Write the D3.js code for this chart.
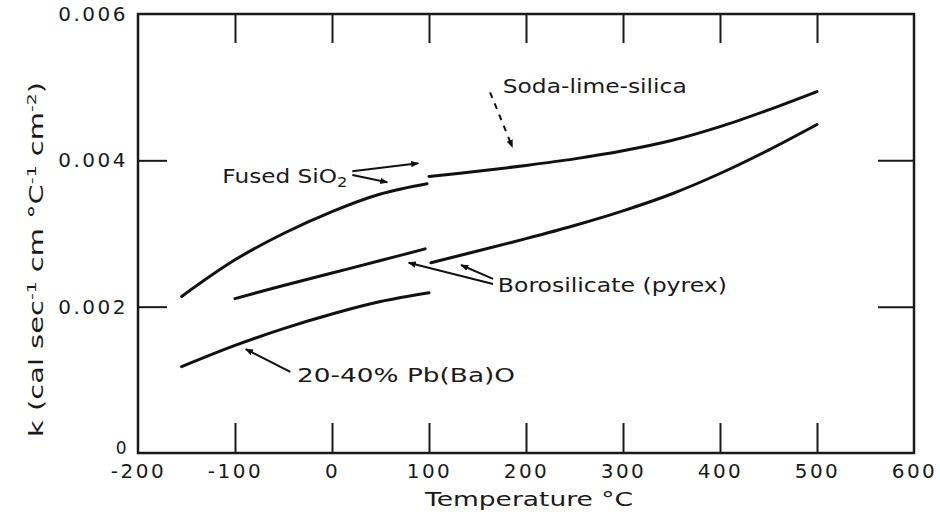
<!DOCTYPE html>
<html>
<head>
<meta charset="utf-8">
<script src="https://cdn.jsdelivr.net/npm/d3@7"></script>
<style>
  body { margin: 0; background: #fff; }
  text { font-family: "DejaVu Sans", sans-serif; fill: #1a1a1a; }
</style>
</head>
<body>
<div id="chart"></div>
<script>
// temperatures (deg C) and conductivity k for each glass
var sodaT = [100, 150, 200, 250, 300, 350, 400, 450, 500];
var sodaK = [0.00378, 0.00385, 0.00393, 0.00402, 0.00413, 0.00427, 0.00446, 0.00469, 0.00494];

var fusedT = [-155, -100, -50, 0, 50, 98];
var fusedK = [0.00214, 0.00264, 0.00300, 0.00330, 0.00354, 0.00368];

var boroLowT = [-100, -50, 0, 50, 96];
var boroLowK = [0.00211, 0.00229, 0.00246, 0.00263, 0.00279];

var boroHighT = [102, 150, 200, 250, 300, 350, 400, 450, 500];
var boroHighK = [0.00260, 0.00276, 0.00293, 0.00311, 0.00331, 0.00354, 0.00382, 0.00414, 0.00449];

var leadT = [-155, -100, -50, 0, 50, 100];
var leadK = [0.00118, 0.00147, 0.00170, 0.00190, 0.00207, 0.00219];

var xTicks = [-200, -100, 0, 100, 200, 300, 400, 500, 600];
var yTicks = [0, 0.002, 0.004, 0.006];
var yTickLabels = ["0", "0.002", "0.004", "0.006"];

var width = 940,
    height = 525;

var x = d3.scaleLinear().domain([-200, 600]).range([138, 914]);
var y = d3.scaleLinear().domain([0, 0.006]).range([453, 14]);

var svg = d3.select("#chart").append("svg")
    .attr("width", width)
    .attr("height", height);

svg.append("defs").append("marker")
    .attr("id", "head")
    .attr("viewBox", "0 0 10 10")
    .attr("refX", 9).attr("refY", 5)
    .attr("markerWidth", 4).attr("markerHeight", 4)
    .attr("markerUnits", "strokeWidth")
    .attr("orient", "auto")
  .append("path")
    .attr("d", "M0,1L10,5L0,9Z")
    .attr("fill", "#111");

// frame
svg.append("rect")
    .attr("x", x(-200)).attr("y", y(0.006))
    .attr("width", x(600) - x(-200))
    .attr("height", y(0) - y(0.006))
    .attr("fill", "none")
    .attr("stroke", "#1a1a1a")
    .attr("stroke-width", 2.5);

// axes with inward ticks
var xAxisBottom = svg.append("g")
    .attr("transform", "translate(0," + y(0) + ")")
    .call(d3.axisBottom(x).tickValues(xTicks).tickSizeInner(-30).tickSizeOuter(0).tickPadding(11)
        .tickFormat(function(d) { return d; }));
xAxisBottom.select(".domain").remove();
xAxisBottom.selectAll("line").filter(function(d) { return d === -200 || d === 600; }).remove();

var xAxisTop = svg.append("g")
    .attr("transform", "translate(0," + y(0.006) + ")")
    .call(d3.axisTop(x).tickValues(xTicks.slice(1, -1)).tickSizeInner(-29).tickSizeOuter(0).tickFormat(""));
xAxisTop.select(".domain").remove();

var yAxisLeft = svg.append("g")
    .attr("transform", "translate(" + x(-200) + ",0)")
    .call(d3.axisLeft(y).tickValues(yTicks).tickSizeInner(-29).tickSizeOuter(0).tickPadding(10)
        .tickFormat(function(d, i) { return yTickLabels[i]; }));
yAxisLeft.select(".domain").remove();
yAxisLeft.selectAll("line").filter(function(d) { return d === 0 || d === 0.006; }).remove();

var yAxisRight = svg.append("g")
    .attr("transform", "translate(" + x(600) + ",0)")
    .call(d3.axisRight(y).tickValues([0.002, 0.004]).tickSizeInner(-36).tickSizeOuter(0).tickFormat(""));
yAxisRight.select(".domain").remove();

svg.selectAll(".tick line").attr("stroke", "#1a1a1a").attr("stroke-width", 2);
svg.selectAll(".tick text")
    .style("font-size", "20px")
    .style("letter-spacing", "2.5px")
    .attr("fill", "#1a1a1a");

// the "0" sits tucked into the corner above "-200"
yAxisLeft.selectAll("text").filter(function(d) { return d === 0; })
    .attr("x", -9)
    .attr("dy", "0.05em")
    .style("font-size", "17px");

// curves
var line = d3.line()
    .x(function(d) { return x(d[0]); })
    .y(function(d) { return y(d[1]); })
    .curve(d3.curveCatmullRom.alpha(0.5));

var series = [
    [sodaT, sodaK],
    [fusedT, fusedK],
    [boroLowT, boroLowK],
    [boroHighT, boroHighK],
    [leadT, leadK]
];

svg.selectAll(".curve")
    .data(series)
    .enter().append("path")
    .attr("class", "curve")
    .attr("d", function(s) { return line(d3.zip(s[0], s[1])); })
    .attr("fill", "none")
    .attr("stroke", "#111")
    .attr("stroke-width", 3)
    .attr("stroke-linecap", "round");

// labels, positioned in data units, stretched like the original lettering
function label(t, k, str, len) {
    return svg.append("text")
        .attr("x", x(t)).attr("y", y(k))
        .attr("textLength", len)
        .attr("lengthAdjust", "spacingAndGlyphs")
        .style("font-size", "20px")
        .text(str);
}

label(176, 0.00492, "Soda-lime-silica", 184);
var fused = label(-113, 0.00369, "Fused SiO", 125);
fused.append("tspan").attr("dy", 4).style("font-size", "14px").text("2");
label(171, 0.00220, "Borosilicate (pyrex)", 229);
label(-36, 0.00097, "20-40% Pb(Ba)O", 218);

// leader lines with arrowheads
var leaders = [
    [[163, 0.00493], [186, 0.00418], true],
    [[21, 0.00385], [89, 0.00396], false],
    [[21, 0.00380], [57, 0.00370], false],
    [[166, 0.00238], [133, 0.00257], false],
    [[166, 0.00231], [79, 0.00260], false],
    [[-43, 0.00111], [-89, 0.00142], false]
];

svg.selectAll(".leader")
    .data(leaders)
    .enter().append("line")
    .attr("class", "leader")
    .attr("x1", function(d) { return x(d[0][0]); })
    .attr("y1", function(d) { return y(d[0][1]); })
    .attr("x2", function(d) { return x(d[1][0]); })
    .attr("y2", function(d) { return y(d[1][1]); })
    .attr("stroke", "#111")
    .attr("stroke-width", 2)
    .attr("stroke-dasharray", function(d) { return d[2] ? "6,6" : null; })
    .attr("marker-end", "url(#head)");

// axis titles
svg.append("text")
    .attr("x", 425).attr("y", 506)
    .attr("textLength", 208)
    .attr("lengthAdjust", "spacingAndGlyphs")
    .style("font-size", "20px")
    .text("Temperature °C");

var ylab = svg.append("text")
    .attr("transform", "translate(43,437)rotate(-90)")
    .attr("textLength", 355)
    .attr("lengthAdjust", "spacingAndGlyphs")
    .style("font-size", "20px");
ylab.append("tspan").text("k (cal sec");
ylab.append("tspan").attr("dy", -7).style("font-size", "13px").text("-1");
ylab.append("tspan").attr("dy", 7).text(" cm °C");
ylab.append("tspan").attr("dy", -7).style("font-size", "13px").text("-1");
ylab.append("tspan").attr("dy", 7).text(" cm");
ylab.append("tspan").attr("dy", -7).style("font-size", "13px").text("-2");
ylab.append("tspan").attr("dy", 7).text(")");
</script>
</body>
</html>
